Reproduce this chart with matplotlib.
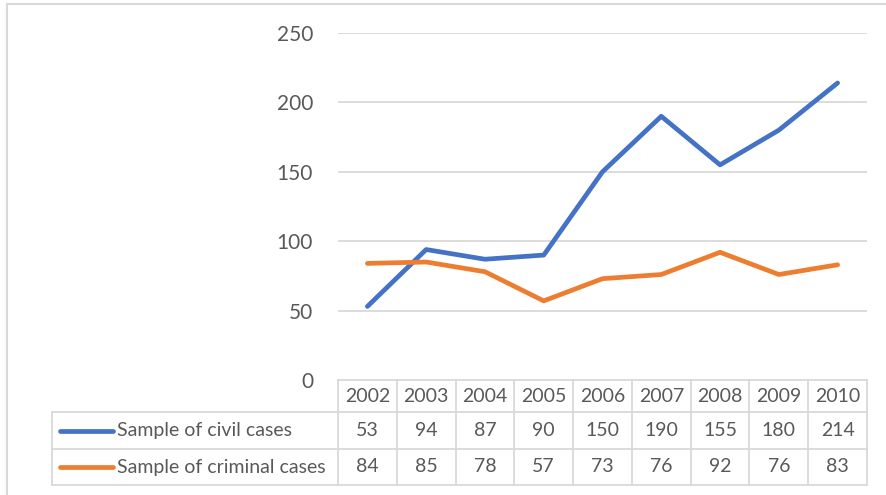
import matplotlib
matplotlib.use("Agg")
import matplotlib.pyplot as plt
from matplotlib.lines import Line2D

years = ["2002", "2003", "2004", "2005", "2006", "2007", "2008", "2009", "2010"]
civil = [53, 94, 87, 90, 150, 190, 155, 180, 214]
criminal = [84, 85, 78, 57, 73, 76, 92, 76, 83]
series_names = ["Sample of civil cases", "Sample of criminal cases"]
yticks = [0, 50, 100, 150, 200, 250]

W, H = 886, 495
fig = plt.figure(figsize=(W / 100, H / 100), dpi=100)
plt.rcParams['font.family'] = ['Lato', 'DejaVu Sans']

def fx(x):
    return x / W

def fy(y):
    return 1 - y / H

TXT = "#595959"
GRID = "#d9d9d9"
BLUE = "#4472C4"
ORANGE = "#ED7D31"

x0, x1 = 338, 867
ytop, ybot = 33, 380
ax = fig.add_axes([fx(x0), fy(ybot), fx(x1 - x0), (ybot - ytop) / H])
n = len(years)
ax.set_xlim(-0.5, n - 0.5)
ax.set_ylim(0, 250)
for s in ax.spines.values():
    s.set_visible(False)
ax.set_xticks([])
ax.set_yticks(yticks)
ax.tick_params(axis='y', length=0, pad=18, labelsize=15, labelcolor=TXT)
for t in yticks[1:]:
    ax.axhline(t, color=GRID, lw=1.3, zorder=0)
xs = list(range(n))
ax.plot(xs, civil, color=BLUE, lw=3.4, solid_capstyle='round', solid_joinstyle='round', zorder=3)
ax.plot(xs, criminal, color=ORANGE, lw=3.4, solid_capstyle='round', solid_joinstyle='round', zorder=3)

# outer chart border
fig.add_artist(Line2D([fx(6.5), fx(6.5)], [fy(4), fy(495)], color=GRID, lw=1.5))
fig.add_artist(Line2D([fx(6.5), fx(886)], [fy(4), fy(4)], color=GRID, lw=1.5))

# data table
colw = (x1 - x0) / n
r0, r1, r2, r3 = 380, 412, 449, 485
leg_x = 52
lc = "#d9d9d9"
lw = 1.3
def hline(xa, xb, y):
    fig.add_artist(Line2D([fx(xa), fx(xb)], [fy(y), fy(y)], color=lc, lw=lw))
def vline(x, ya, yb):
    fig.add_artist(Line2D([fx(x), fx(x)], [fy(ya), fy(yb)], color=lc, lw=lw))

hline(x0, x1, r0)
hline(leg_x, x1, r1)
hline(leg_x, x1, r2)
hline(leg_x, x1, r3)
vline(leg_x, r1, r3)
for i in range(n + 1):
    vline(x0 + i * colw, r0, r3)

fs = 14
for i, yr in enumerate(years):
    cx = x0 + (i + 0.5) * colw
    fig.text(fx(cx), fy((r0 + r1) / 2), yr, ha='center', va='center', fontsize=fs, color=TXT)
    fig.text(fx(cx), fy((r1 + r2) / 2), str(civil[i]), ha='center', va='center', fontsize=fs, color=TXT)
    fig.text(fx(cx), fy((r2 + r3) / 2), str(criminal[i]), ha='center', va='center', fontsize=fs, color=TXT)

for name, col, (ya, yb) in zip(series_names, [BLUE, ORANGE], [(r1, r2), (r2, r3)]):
    yc = (ya + yb) / 2
    fig.add_artist(Line2D([fx(60), fx(113)], [fy(yc), fy(yc)], color=col, lw=3.4, solid_capstyle='round'))
    fig.text(fx(117), fy(yc), name, ha='left', va='center', fontsize=fs, color=TXT)

fig.savefig("out.png", dpi=100)
